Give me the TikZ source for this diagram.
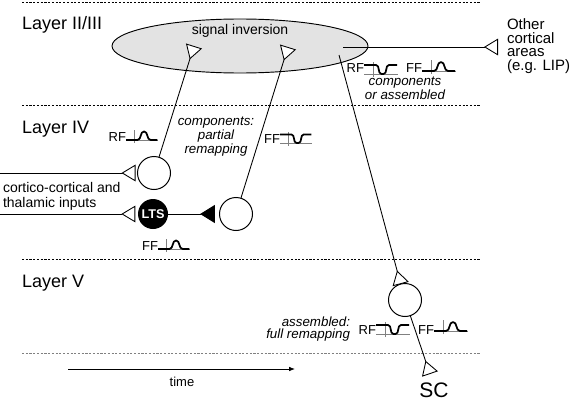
\documentclass[tikz,border=0pt]{standalone}
\usepackage{fontspec}
\setmainfont{Liberation Sans}
\usetikzlibrary{arrows.meta,calc,shapes.geometric}
\tikzset{
  dipicon/.pic={
    \draw[gray,line width=0.45pt] (0,0)--(34,0) (9,3)--(9,-12);
    \draw[line width=1.3pt,line join=round] (0,-9)--(12,-9) to[out=0,in=180] (17.5,0) -- (19.5,0) to[out=0,in=180] (25,-9) -- (33,-9);
  },
  bumpicon/.pic={
    \draw[gray,line width=0.45pt] (0,0)--(34,0) (9,3)--(9,-11);
    \draw[line width=1.3pt,line join=round] (0,0)--(12,0) to[out=0,in=180] (19,-9) to[out=0,in=180] (26,0) -- (33,0);
  }
}
\begin{document}
\begin{tikzpicture}[x=0.75pt,y=-0.75pt,
  every node/.style={inner sep=0pt, outer sep=0pt},
  layerline/.style={line width=0.55pt, dash pattern=on 1.6pt off 1.2pt},
  axon/.style={line width=0.65pt},
  exc/.style={axon,-{Triangle[fill=white,reversed,length=10.5pt,width=12.5pt]}},
  inh/.style={axon,-{Triangle[reversed,length=11pt,width=13.5pt]}},
  neuron/.style={circle,draw,line width=0.75pt,minimum size=24.75pt},
  layerlbl/.style={font=\fontsize{13.5}{16}\selectfont,anchor=base west},
  wlbl/.style={font=\fontsize{9.75}{10}\selectfont,anchor=base east},
  note/.style={font=\fontsize{10}{8.8}\selectfont\itshape},
  txt/.style={font=\fontsize{10.5}{10.9}\selectfont}
]
\useasboundingbox (0,0) rectangle (574,403);

% layer boundaries
\draw[layerline] (22,2) -- (480,2);
\draw[layerline] (22,105) -- (480,105);
\draw[layerline] (22,259) -- (480,259);
\draw[layerline,gray] (22,353) -- (480,353);

% layer labels
\node[layerlbl] (l23) at (22,30) {Layer II/III};
\node[layerlbl] (l4) at (22,133) {Layer IV};
\node[layerlbl] (l5) at (22,287) {Layer V};

% ellipse
\node[ellipse,draw,fill=gray!22,line width=0.7pt,minimum width=192pt,minimum height=40.5pt] (ell) at (240,46) {};
\node[txt,anchor=base] (sig) at (240,35) {signal inversion};

% neurons
\node[neuron] (n1) at (154,173) {};
\node[neuron] (n2) at (236,214) {};
\node[neuron] (n5) at (405,300) {};
\node[circle,fill=black,minimum size=22.5pt,text=white,font=\fontsize{9.5}{10}\selectfont\bfseries] (lts) at (153,214) {LTS};

% coordinates
\coordinate (in1) at (0,173);
\coordinate (in2) at (0,214);
\coordinate (t1) at (194,46);
\coordinate (t2) at (288,47);
\coordinate (e3) at (339,55);
\coordinate (sc) at (430,374);
\coordinate (e4) at (343,47);
\coordinate (oc) at (498,47);
\coordinate (ts) at (68,369);
\coordinate (te) at (295,369);

% connections
\draw[exc,shorten >=1.5pt] (in1) -- (n1);
\draw[exc,shorten >=2pt] (in2) -- (lts);
\draw[inh,shorten >=3.5pt] (lts) -- (n2);
\draw[exc] (n1) -- (t1);
\draw[exc] (n2) -- (t2);
\draw[exc] (e3) -- (n5);
\draw[exc] (n5) -- (sc);
\draw[exc] (e4) -- (oc);
\draw[line width=0.6pt,-{Latex[length=4.5pt,width=3.5pt]}] (ts) -- (te);

% texts (base anchor = last line of a multi-line node)
\node[font=\fontsize{11.25}{10.1}\selectfont,align=left,anchor=base west] (other) at (507,70) {Other\\cortical\\areas\\(e.g. LIP)};
\node[txt,align=left,anchor=base west] (inp) at (3,207) {cortico-cortical and\\thalamic inputs};
\node[note,align=center,anchor=base] (c23) at (405,99) {components\\or assembled};
\node[note,align=center,anchor=base] (c4) at (216,153) {components:\\partial\\remapping};
\node[note,align=right,anchor=base east] (c5) at (350,338) {assembled:\\full remapping};
\node[font=\fontsize{9.75}{11}\selectfont,anchor=base] (time) at (182,386) {time};
\node[font=\fontsize{15.75}{18}\selectfont,anchor=base] (sclbl) at (434,397) {SC};

% waveforms
\node[wlbl] (rf23) at (364,73) {RF};
\pic at (364,74) {dipicon};
\node[wlbl] (ff23) at (422,73) {FF};
\pic at (422,71) {bumpicon};

\node[wlbl] (rf4) at (126,141) {RF};
\pic[scale=0.95] at (126,140) {bumpicon};
\node[wlbl] (ff4) at (280,143) {FF};
\pic[scale=0.95] at (280,143) {dipicon};

\node[wlbl] (ffl) at (158,250) {FF};
\pic[scale=0.95] at (158,249) {bumpicon};

\node[wlbl] (rf5) at (376,334) {RF};
\pic at (376,334) {dipicon};
\node[wlbl] (ff5) at (434,334) {FF};
\pic at (434,331) {bumpicon};
\end{tikzpicture}
\end{document}
